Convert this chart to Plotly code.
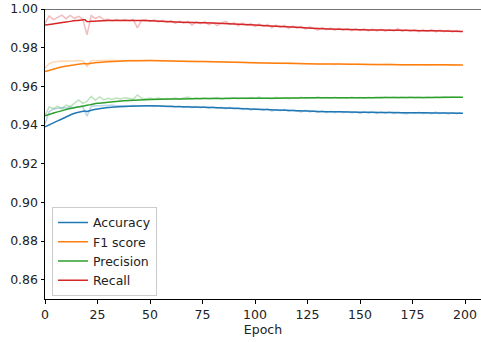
import plotly.graph_objects as go

# ---- data ----
series_names = ["Accuracy", "F1 score", "Precision", "Recall"]
series_colors = ["#1f77b4", "#ff7f0e", "#2ca02c", "#d62728"]

# raw values, one every 2 epochs (0, 2, ..., 198)
accuracy_raw = [
    0.9405, 0.9470, 0.9482, 0.9486, 0.9490, 0.9488, 0.9493, 0.9491, 0.9495, 0.9494,
    0.9445, 0.9497, 0.9500, 0.9499, 0.9501, 0.9500, 0.9502, 0.9499, 0.9501, 0.9500,
    0.9498, 0.9501, 0.9499, 0.9497, 0.9500, 0.9498, 0.9496, 0.9499, 0.9497, 0.9494,
    0.9499, 0.9493, 0.9498, 0.9491, 0.9497, 0.9490, 0.9496, 0.9489, 0.9494, 0.9487,
    0.9493, 0.9486, 0.9492, 0.9484, 0.9491, 0.9483, 0.9489, 0.9481, 0.9487, 0.9477,
    0.9485, 0.9479, 0.9475, 0.9484, 0.9471, 0.9480, 0.9474, 0.9481, 0.9470, 0.9478,
    0.9471, 0.9468, 0.9476, 0.9467, 0.9474, 0.9465, 0.9472, 0.9464, 0.9471, 0.9463,
    0.9470, 0.9463, 0.9469, 0.9462, 0.9468, 0.9460, 0.9468, 0.9461, 0.9467, 0.9460,
    0.9467, 0.9461, 0.9467, 0.9459, 0.9466, 0.9460, 0.9457, 0.9465, 0.9459, 0.9466,
    0.9458, 0.9465, 0.9459, 0.9467, 0.9458, 0.9464, 0.9457, 0.9464, 0.9458, 0.9463,
]
f1_raw = [
    0.9695, 0.9718, 0.9726, 0.9729, 0.9731, 0.9730, 0.9732, 0.9731, 0.9733, 0.9732,
    0.9703, 0.9733, 0.9734, 0.9733, 0.9735, 0.9734, 0.9735, 0.9733, 0.9735, 0.9734,
    0.9733, 0.9735, 0.9733, 0.9734, 0.9732, 0.9734, 0.9732, 0.9733, 0.9731, 0.9733,
    0.9731, 0.9732, 0.9730, 0.9731, 0.9729, 0.9731, 0.9729, 0.9730, 0.9728, 0.9729,
    0.9727, 0.9728, 0.9726, 0.9727, 0.9725, 0.9726, 0.9724, 0.9725, 0.9723, 0.9721,
    0.9723, 0.9721, 0.9722, 0.9720, 0.9721, 0.9719, 0.9720, 0.9718, 0.9719, 0.9717,
    0.9718, 0.9717, 0.9718, 0.9716, 0.9717, 0.9715, 0.9716, 0.9714, 0.9716, 0.9712,
    0.9715, 0.9714, 0.9715, 0.9713, 0.9714, 0.9713, 0.9714, 0.9712, 0.9713, 0.9712,
    0.9713, 0.9711, 0.9713, 0.9712, 0.9711, 0.9712, 0.9710, 0.9712, 0.9711, 0.9712,
    0.9710, 0.9711, 0.9709, 0.9711, 0.9710, 0.9711, 0.9709, 0.9710, 0.9709, 0.9710,
]
precision_raw = [
    0.9450, 0.9493, 0.9485, 0.9497, 0.9482, 0.9503, 0.9495, 0.9515, 0.9530, 0.9512,
    0.9522, 0.9548, 0.9528, 0.9545, 0.9530, 0.9538, 0.9532, 0.9540, 0.9535, 0.9541,
    0.9536, 0.9534, 0.9555, 0.9538, 0.9536, 0.9540, 0.9535, 0.9539, 0.9534, 0.9537,
    0.9535, 0.9540, 0.9534, 0.9538, 0.9545, 0.9536, 0.9539, 0.9535, 0.9540, 0.9536,
    0.9538, 0.9542, 0.9535, 0.9539, 0.9537, 0.9541, 0.9536, 0.9539, 0.9537, 0.9542,
    0.9538, 0.9545, 0.9537, 0.9540, 0.9536, 0.9543, 0.9538, 0.9541, 0.9536, 0.9540,
    0.9538, 0.9544, 0.9537, 0.9541, 0.9539, 0.9545, 0.9538, 0.9542, 0.9539, 0.9543,
    0.9538, 0.9541, 0.9539, 0.9543, 0.9540, 0.9542, 0.9539, 0.9544, 0.9540, 0.9542,
    0.9539, 0.9543, 0.9541, 0.9544, 0.9540, 0.9543, 0.9541, 0.9545, 0.9541, 0.9543,
    0.9540, 0.9544, 0.9542, 0.9545, 0.9541, 0.9544, 0.9542, 0.9545, 0.9543, 0.9544,
]
recall_raw = [
    0.9926, 0.9964, 0.9945, 0.9955, 0.9968, 0.9950, 0.9967, 0.9952, 0.9962, 0.9948,
    0.9866, 0.9966, 0.9950, 0.9962, 0.9944, 0.9947, 0.9940, 0.9946, 0.9941, 0.9945,
    0.9939, 0.9946, 0.9902, 0.9942, 0.9946, 0.9936, 0.9944, 0.9933, 0.9942, 0.9931,
    0.9940, 0.9926, 0.9938, 0.9927, 0.9936, 0.9917, 0.9933, 0.9924, 0.9935, 0.9919,
    0.9930, 0.9914, 0.9928, 0.9936, 0.9920, 0.9929, 0.9913, 0.9927, 0.9915, 0.9924,
    0.9909, 0.9922, 0.9911, 0.9921, 0.9903, 0.9917, 0.9905, 0.9915, 0.9900, 0.9912,
    0.9901, 0.9910, 0.9896, 0.9908, 0.9897, 0.9890, 0.9904, 0.9893, 0.9902, 0.9891,
    0.9900, 0.9890, 0.9899, 0.9888, 0.9898, 0.9889, 0.9897, 0.9887, 0.9896, 0.9886,
    0.9895, 0.9885, 0.9894, 0.9887, 0.9898, 0.9884, 0.9893, 0.9885, 0.9894, 0.9883,
    0.9892, 0.9884, 0.9893, 0.9882, 0.9891, 0.9882, 0.9890, 0.9881, 0.9889, 0.9882,
]

# smoothed curves, sampled at these epochs
smooth_epochs = [0, 3, 6, 9, 12, 15, 19, 20, 22, 25, 30, 35, 40, 50, 60, 70, 80,
                 90, 100, 110, 120, 130, 140, 150, 160, 170, 180, 190, 199]
accuracy_smooth = [0.9391, 0.9406, 0.9421, 0.9436, 0.9452, 0.9463, 0.9473, 0.9470,
                   0.9476, 0.9483, 0.9490, 0.9494, 0.9497, 0.9499, 0.9496, 0.9493,
                   0.9490, 0.9486, 0.9482, 0.9478, 0.9474, 0.9470, 0.9468, 0.9466,
                   0.9465, 0.9464, 0.9463, 0.9462, 0.9461]
f1_smooth = [0.9676, 0.9686, 0.9695, 0.9702, 0.9708, 0.9713, 0.9718, 0.9716,
             0.9719, 0.9723, 0.9727, 0.9730, 0.9732, 0.9733, 0.9731, 0.9729,
             0.9727, 0.9725, 0.9722, 0.9720, 0.9718, 0.9716, 0.9715, 0.9714,
             0.9713, 0.9712, 0.9711, 0.9711, 0.9710]
precision_smooth = [0.9448, 0.9458, 0.9468, 0.9477, 0.9485, 0.9492, 0.9500, 0.9502,
                    0.9506, 0.9512, 0.9518, 0.9523, 0.9527, 0.9532, 0.9534, 0.9536,
                    0.9537, 0.9538, 0.9539, 0.9539, 0.9540, 0.9541, 0.9541, 0.9541,
                    0.9542, 0.9542, 0.9542, 0.9543, 0.9543]
recall_smooth = [0.9917, 0.9921, 0.9926, 0.9931, 0.9936, 0.9940, 0.9944, 0.9935,
                 0.9936, 0.9938, 0.9940, 0.9941, 0.9941, 0.9939, 0.9934, 0.9930,
                 0.9927, 0.9923, 0.9917, 0.9911, 0.9905, 0.9899, 0.9895, 0.9893,
                 0.9891, 0.9890, 0.9888, 0.9886, 0.9884]

x_ticks = [0, 25, 50, 75, 100, 125, 150, 175, 200]
y_ticks = [0.86, 0.88, 0.90, 0.92, 0.94, 0.96, 0.98, 1.00]
x_title = "Epoch"

raw_series = [accuracy_raw, f1_raw, precision_raw, recall_raw]
smooth_series = [accuracy_smooth, f1_smooth, precision_smooth, recall_smooth]

FONT = "DejaVu Sans"
TXT = "#222222"
fig = go.Figure()

for name, color, raw in zip(series_names, series_colors, raw_series):
    raw_epochs = list(range(0, 2 * len(raw), 2))
    fig.add_trace(go.Scatter(x=raw_epochs, y=raw, mode="lines",
                             line=dict(color=color, width=1.5), opacity=0.3,
                             showlegend=False, hoverinfo="skip"))

for name, color, sm in zip(series_names, series_colors, smooth_series):
    fig.add_trace(go.Scatter(x=smooth_epochs, y=sm, mode="lines", name=name,
                             line=dict(color=color, width=1.5, shape="spline",
                                       smoothing=0.6)))

fig.add_shape(type="line", xref="paper", yref="y", x0=0, x1=1, y0=1.0, y1=1.0,
              line=dict(color="#444444", width=1.3), layer="above")

axis_common = dict(showgrid=False, zeroline=False, showline=True,
                   linecolor="#000000", linewidth=1, ticks="outside",
                   ticklen=3.5, tickwidth=0.9, tickcolor="#000000",
                   automargin=False,
                   tickfont=dict(family=FONT, size=12.5, color=TXT))

fig.update_layout(
    width=481, height=342,
    margin=dict(l=45, r=0, t=9, b=43, autoexpand=False),
    paper_bgcolor="white", plot_bgcolor="white",
    font=dict(family=FONT, size=12.5, color=TXT),
    xaxis=dict(range=[0, 207.6], tickvals=x_ticks,
               title=dict(text=x_title, standoff=2,
                          font=dict(family=FONT, size=12.5, color=TXT)),
               **axis_common),
    yaxis=dict(range=[0.85, 1.0], tickvals=y_ticks, tickformat=".2f",
               **axis_common),
    legend=dict(x=0.016, y=0.318, xanchor="left", yanchor="top",
                bgcolor="rgba(255,255,255,0.8)", bordercolor="#cccccc",
                borderwidth=1, font=dict(family=FONT, size=12.5, color=TXT),
                tracegroupgap=0),
    showlegend=True,
)

fig.write_html("out.html", config={"displayModeBar": False},
               post_script="document.body.style.margin='0';")
